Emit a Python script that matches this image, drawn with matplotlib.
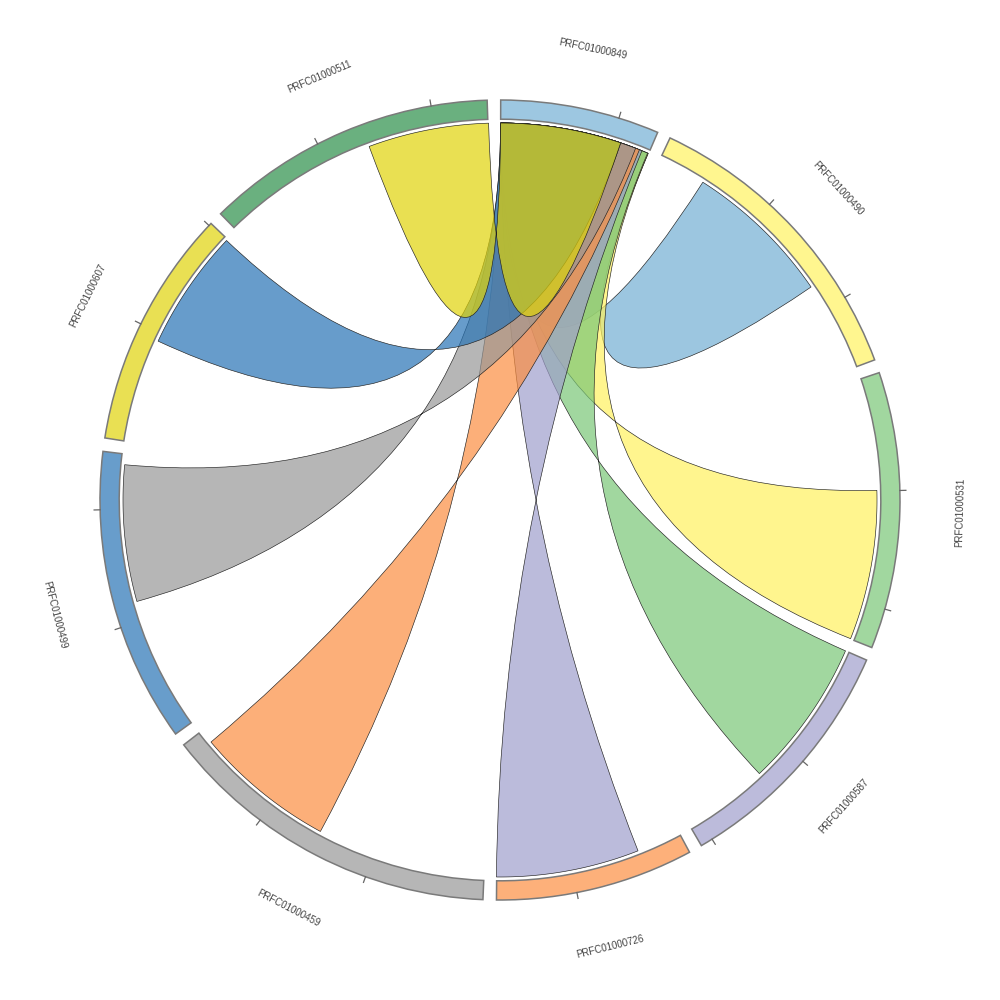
import numpy as np
import matplotlib
matplotlib.use("Agg")
import matplotlib.pyplot as plt
from matplotlib.path import Path
from matplotlib.patches import PathPatch, Wedge
from matplotlib.colors import to_rgb

# contigs, clockwise from the top
names = ['PRFC01000849', 'PRFC01000490', 'PRFC01000531', 'PRFC01000587',
         'PRFC01000726', 'PRFC01000459', 'PRFC01000499', 'PRFC01000607',
         'PRFC01000511']
lengths = [6.72, 12.89, 11.69, 10.52, 8.37, 14.48, 12.44, 10.12, 12.35]
seg_colors = ['#9dc7e1', '#fff68f', '#a1d79f', '#bcbbdb', '#fdb07a',
              '#b6b6b6', '#689dcb', '#e9e053', '#6ab07f']

# links: every contig shares one block with PRFC01000849 (index 0)
link_seg = [1, 2, 3, 4, 5, 6, 7, 8]
link_start = [2.15, 4.97, 0.0, 1.98, 7.56, 5.87, 4.65, 6.98]
link_width = [6.7, 6.7, 6.67, 6.4, 6.28, 6.1, 5.4, 5.4]
hub_start = [0.0, 0.0, 0.0, 0.0, 0.0, 0.0, 0.0, 0.0]
link_colors = ['#9dc7e1', '#fff68f', '#a1d79f', '#bcbbdb', '#fdb07a',
               '#b6b6b6', '#689dcb', '#e9e053']

tick_step = 5
gap = 1.94          # degrees between contigs
start_deg = 0.1     # clockwise from 12 o'clock
r_out, r_in, r_link = 1.0, 0.952, 0.9425
alpha = 0.7

dpu = (360 - gap * len(names)) / sum(lengths)
seg_start = []
pos = start_deg
for L in lengths:
    seg_start.append(pos)
    pos += L * dpu + gap


def ang(seg, off):
    # clockwise degrees from top -> math radians
    return np.deg2rad(90 - (seg_start[seg] + off * dpu))


def pt(a, r):
    return (r * np.cos(a), r * np.sin(a))


def arc(a0, a1, r, n=60):
    return [pt(a, r) for a in np.linspace(a0, a1, n)]


def ribbon(s0, s1, t0, t1, r):
    # s0 -> s1, bezier to t1, back along t1 -> t0, bezier to s0
    verts = arc(s0, s1, r)
    codes = [Path.MOVETO] + [Path.LINETO] * (len(verts) - 1)
    verts += [(0, 0), pt(t1, r)]
    codes += [Path.CURVE3, Path.CURVE3]
    a = arc(t1, t0, r)[1:]
    verts += a
    codes += [Path.LINETO] * len(a)
    verts += [(0, 0), pt(s0, r), (0, 0)]
    codes += [Path.CURVE3, Path.CURVE3, Path.CLOSEPOLY]
    return Path(verts, codes)


def base_color(c):
    # colour that gives c on white once drawn with the link alpha
    rgb = np.array(to_rgb(c))
    return tuple(np.clip((rgb - (1 - alpha)) / alpha, 0, 1)) + (alpha,)


fig = plt.figure(figsize=(10, 10), dpi=100)
ax = fig.add_axes([0, 0, 1, 1])
ax.set_xlim(-1.25, 1.25)
ax.set_ylim(-1.25, 1.25)
ax.set_aspect('equal')
ax.axis('off')

# contig bands, ticks, labels
for i, name in enumerate(names):
    a_start = 90 - seg_start[i]
    a_end = 90 - (seg_start[i] + lengths[i] * dpu)
    ax.add_patch(Wedge((0, 0), r_out, a_end, a_start, width=r_out - r_in,
                       facecolor=seg_colors[i], edgecolor='#7a7a7a', lw=1.1))
    t = tick_step
    while t < lengths[i]:
        a = ang(i, t)
        ax.plot([r_out * np.cos(a), 1.015 * np.cos(a)],
                [r_out * np.sin(a), 1.015 * np.sin(a)], color='#666666', lw=0.9)
        t += tick_step
    mid = np.rad2deg(ang(i, lengths[i] / 2))
    rot = mid - 90 if 0 < mid % 360 < 180 else mid + 90
    x, y = pt(np.deg2rad(mid), 1.15)
    ax.text(x, y, name, rotation=rot, ha='center', va='center', fontsize=7,
            color='#444444', family='Liberation Sans', rotation_mode='anchor')

# links
for k in range(len(link_seg)):
    s = link_seg[k]
    s0 = ang(s, link_start[k])
    s1 = ang(s, link_start[k] + link_width[k])
    t0 = ang(0, hub_start[k])
    t1 = ang(0, hub_start[k] + link_width[k])
    ax.add_patch(PathPatch(ribbon(s0, s1, t0, t1, r_link),
                           facecolor=base_color(link_colors[k]),
                           edgecolor='#202020', lw=0.45))

fig.savefig('out.png', dpi=100, facecolor='white')
